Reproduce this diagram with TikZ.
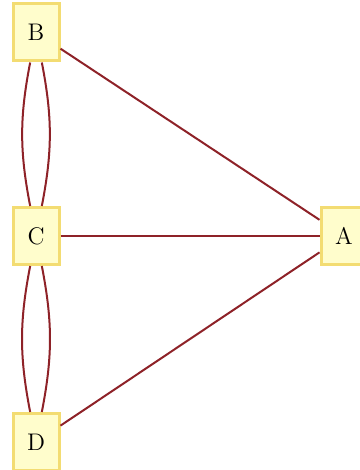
\documentclass[tikz,border=0pt]{standalone}
\usetikzlibrary{positioning}

\definecolor{landfill}{HTML}{FFFDCC}
\definecolor{landedge}{HTML}{F3DC72}
\definecolor{bridgered}{HTML}{8E2228}

\tikzset{
	land/.style={draw=landedge, fill=landfill, line width=1.5pt, minimum width=23pt, minimum height=28.5pt, inner sep=0pt, font=\large},
	bridge/.style={draw=bridgered, line width=1pt}
}

\begin{document}
\begin{tikzpicture}[x=0.5pt,y=-0.5pt]
		\useasboundingbox (0,0) rectangle (359,470);

		\node[land] (B) at (36,32.5) {B};
		\node[land] (C) at (36,236) {C};
		\node[land] (D) at (36,442) {D};
		\node[land] (A) at (344,236) {A};

		\draw[bridge] (B) to[bend left=11] (C);
		\draw[bridge] (B) to[bend right=11] (C);
		\draw[bridge] (C) to[bend left=11] (D);
		\draw[bridge] (C) to[bend right=11] (D);

		\draw[bridge] (B) -- (A);
		\draw[bridge] (C) -- (A);
		\draw[bridge] (D) -- (A);
	\end{tikzpicture}
\end{document}
